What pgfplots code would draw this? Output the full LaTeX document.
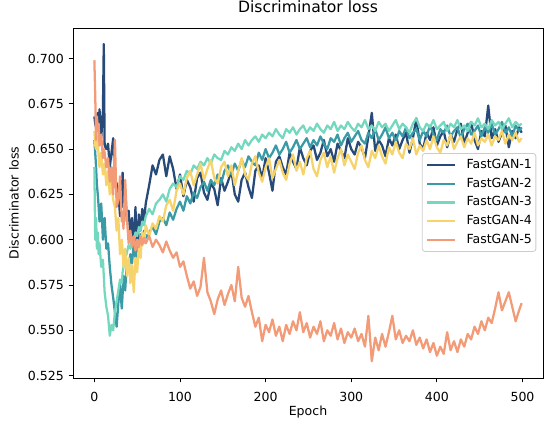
\documentclass[border=0pt]{standalone}
\usepackage{fontspec}
\setmainfont{DejaVu Sans}
\usepackage{pgfplots}
\usepackage{pgfplotstable}
\pgfplotsset{compat=1.18}
\definecolor{c1}{HTML}{274A78}
\definecolor{c2}{HTML}{3A9BA6}
\definecolor{c3}{HTML}{74D8BF}
\definecolor{c4}{HTML}{F6D36B}
\definecolor{c5}{HTML}{F39A77}
\pgfplotstableread{
ep s1 s2 s3 s4 s5
0 0.668 0.655 0.640 0.660 0.699
1 0.664 0.648 0.600 0.652 0.680
2 0.662 0.640 0.612 0.650 0.655
3 0.667 0.630 0.595 0.657 0.668
4 0.670 0.625 0.604 0.655 0.660
5 0.661 0.618 0.592 0.646 0.664
6 0.672 0.610 0.598 0.640 0.652
8 0.656 0.620 0.585 0.648 0.658
10 0.671 0.600 0.589 0.636 0.645
11 0.708 0.606 0.580 0.641 0.650
12 0.652 0.612 0.571 0.642 0.648
14 0.650 0.595 0.563 0.630 0.640
16 0.653 0.598 0.558 0.638 0.645
18 0.640 0.585 0.547 0.625 0.632
20 0.648 0.575 0.553 0.632 0.640
22 0.656 0.568 0.550 0.622 0.625
24 0.633 0.560 0.560 0.618 0.655
26 0.631 0.552 0.566 0.605 0.618
28 0.626 0.565 0.572 0.612 0.622
30 0.613 0.575 0.578 0.592 0.635
32 0.622 0.562 0.576 0.600 0.610
33 0.637 0.570 0.582 0.594 0.615
34 0.618 0.580 0.585 0.585 0.606
36 0.628 0.572 0.589 0.595 0.633
38 0.610 0.588 0.593 0.580 0.612
40 0.616 0.583 0.597 0.590 0.598
42 0.603 0.592 0.595 0.576 0.605
44 0.612 0.587 0.600 0.586 0.596
46 0.594 0.598 0.598 0.571 0.602
48 0.618 0.590 0.604 0.590 0.594
50 0.590 0.600 0.602 0.582 0.600
52 0.614 0.596 0.607 0.598 0.596
54 0.605 0.603 0.605 0.590 0.602
56 0.617 0.598 0.610 0.604 0.597
58 0.610 0.605 0.608 0.598 0.601
60 0.620 0.601 0.613 0.608 0.598
64 0.630 0.604 0.617 0.602 0.602
68 0.641 0.607 0.614 0.609 0.596
72 0.636 0.603 0.620 0.606 0.600
76 0.644 0.610 0.622 0.613 0.597
80 0.647 0.612 0.625 0.610 0.593
84 0.635 0.608 0.621 0.619 0.599
88 0.646 0.615 0.628 0.622 0.594
92 0.639 0.611 0.631 0.616 0.590
96 0.628 0.617 0.629 0.627 0.593
100 0.636 0.621 0.635 0.631 0.585
104 0.624 0.616 0.633 0.625 0.588
108 0.633 0.624 0.638 0.634 0.580
112 0.629 0.620 0.636 0.638 0.573
116 0.621 0.626 0.641 0.630 0.577
120 0.634 0.623 0.639 0.636 0.569
124 0.637 0.629 0.643 0.642 0.574
128 0.626 0.632 0.641 0.633 0.590
132 0.622 0.627 0.645 0.639 0.571
136 0.631 0.633 0.642 0.644 0.566
140 0.628 0.630 0.647 0.634 0.559
144 0.619 0.636 0.645 0.631 0.567
148 0.634 0.631 0.644 0.640 0.572
152 0.627 0.638 0.649 0.643 0.564
156 0.632 0.641 0.647 0.635 0.570
160 0.638 0.636 0.651 0.641 0.575
164 0.625 0.642 0.649 0.630 0.566
168 0.621 0.638 0.653 0.638 0.585
172 0.633 0.644 0.650 0.645 0.568
176 0.637 0.640 0.655 0.636 0.563
180 0.629 0.646 0.652 0.633 0.569
184 0.623 0.643 0.655 0.642 0.560
188 0.638 0.641 0.657 0.646 0.552
192 0.641 0.648 0.654 0.637 0.557
196 0.634 0.644 0.658 0.632 0.544
200 0.645 0.650 0.656 0.640 0.553
204 0.637 0.645 0.659 0.645 0.549
208 0.627 0.648 0.657 0.634 0.556
212 0.643 0.652 0.661 0.639 0.547
216 0.646 0.647 0.658 0.644 0.552
220 0.640 0.650 0.656 0.637 0.544
224 0.636 0.654 0.661 0.633 0.553
228 0.648 0.648 0.659 0.642 0.548
232 0.643 0.651 0.662 0.647 0.555
236 0.639 0.655 0.658 0.638 0.550
240 0.651 0.650 0.661 0.643 0.560
244 0.645 0.653 0.663 0.636 0.549
248 0.641 0.656 0.659 0.645 0.554
252 0.649 0.651 0.662 0.649 0.546
256 0.652 0.655 0.660 0.639 0.552
260 0.644 0.652 0.664 0.635 0.548
264 0.648 0.657 0.661 0.644 0.555
268 0.655 0.653 0.659 0.648 0.544
272 0.646 0.650 0.663 0.640 0.550
276 0.650 0.656 0.661 0.646 0.547
280 0.643 0.654 0.665 0.637 0.554
284 0.653 0.658 0.660 0.645 0.545
288 0.649 0.652 0.663 0.650 0.551
292 0.645 0.656 0.661 0.641 0.543
296 0.656 0.659 0.665 0.647 0.549
300 0.650 0.654 0.662 0.643 0.546
304 0.647 0.657 0.660 0.639 0.551
308 0.654 0.660 0.664 0.648 0.544
312 0.651 0.655 0.662 0.652 0.548
316 0.645 0.653 0.666 0.644 0.541
320 0.657 0.659 0.661 0.640 0.558
324 0.670 0.656 0.663 0.649 0.533
328 0.649 0.661 0.660 0.645 0.546
332 0.655 0.655 0.665 0.652 0.539
336 0.652 0.658 0.662 0.646 0.548
340 0.646 0.662 0.664 0.642 0.541
344 0.656 0.656 0.660 0.651 0.549
348 0.652 0.659 0.663 0.647 0.558
352 0.658 0.654 0.666 0.654 0.545
356 0.650 0.660 0.661 0.648 0.550
360 0.655 0.657 0.664 0.645 0.543
364 0.659 0.662 0.662 0.653 0.547
368 0.648 0.656 0.659 0.650 0.544
372 0.656 0.659 0.664 0.656 0.550
376 0.667 0.661 0.667 0.647 0.542
380 0.653 0.655 0.662 0.652 0.546
384 0.650 0.660 0.660 0.649 0.540
388 0.659 0.657 0.664 0.655 0.545
392 0.655 0.663 0.662 0.650 0.538
396 0.662 0.658 0.666 0.657 0.543
400 0.652 0.655 0.661 0.651 0.536
404 0.657 0.661 0.663 0.648 0.541
408 0.660 0.659 0.665 0.655 0.537
412 0.651 0.663 0.660 0.652 0.549
416 0.658 0.657 0.664 0.658 0.539
420 0.654 0.660 0.662 0.650 0.544
424 0.661 0.662 0.666 0.654 0.538
428 0.664 0.656 0.661 0.657 0.545
432 0.653 0.661 0.663 0.651 0.541
436 0.659 0.664 0.660 0.656 0.548
440 0.665 0.658 0.665 0.653 0.545
444 0.655 0.660 0.663 0.659 0.552
448 0.650 0.663 0.667 0.652 0.548
452 0.660 0.657 0.662 0.656 0.555
456 0.657 0.662 0.664 0.654 0.550
460 0.674 0.659 0.661 0.658 0.557
464 0.656 0.664 0.666 0.652 0.554
468 0.661 0.658 0.663 0.657 0.562
472 0.654 0.661 0.665 0.655 0.571
476 0.659 0.665 0.661 0.660 0.561
480 0.663 0.659 0.664 0.653 0.566
484 0.651 0.662 0.667 0.658 0.571
488 0.660 0.657 0.662 0.655 0.563
492 0.656 0.663 0.665 0.659 0.555
496 0.662 0.660 0.663 0.654 0.561
499 0.659 0.662 0.664 0.656 0.565
}\lossdata
\newcommand{\tickfont}{\fontsize{9.4}{11}\selectfont}
\begin{document}
\begin{tikzpicture}
\path[use as bounding box] (0,0) rectangle (412.5pt,321pt);
\begin{axis}[
  at={(54.75pt,37.5pt)}, anchor=south west,
  scale only axis, width=352.5pt, height=262.5pt,
  xmin=-24.95, xmax=523.95, ymin=0.5237, ymax=0.7168,
  xtick={0,100,200,300,400,500},
  ytick={0.525,0.550,0.575,0.600,0.625,0.650,0.675,0.700},
  yticklabels={},
  xtick pos=bottom, ytick pos=left,
  /pgf/number format/assume math mode=true,
  tick align=outside, major tick length=3.2pt,
  tick style={black, line width=0.6pt},
  axis line style={black, line width=0.6pt},
  every tick label/.append style={font=\tickfont},
  xticklabel style={anchor=base, inner sep=0pt, yshift=-14.5pt},
  title={Discriminator loss},
  title style={font=\fontsize{11.7}{13}\selectfont, at={(axis description cs:0.5,1.0209)}, anchor=base, yshift=0pt},
  xlabel={Epoch}, ylabel={Discriminator loss},
  every axis x label/.style={at={(axis description cs:0.5,-0.1077)}, anchor=base, font=\tickfont},
  every axis y label/.style={at={(axis description cs:-0.1255,0.5)}, anchor=center, rotate=90, font=\tickfont},
  legend style={at={(0.9857,0.5015)}, anchor=east, draw=black!20, line width=0.6pt,
    rounded corners=2pt, fill=white, fill opacity=0.8, text opacity=1, draw opacity=1,
    font=\tickfont, inner xsep=3pt, inner ysep=4pt, row sep=5.1pt,
    nodes={inner sep=0pt, text height=7pt, text depth=2pt},
    /tikz/every odd column/.append style={column sep=7.5pt}},
  legend cell align=left,
  legend image code/.code={\draw[#1] (0pt,0pt) -- (21pt,0pt);},
]
\addplot[c1, line width=1.7pt, line join=round] table[x=ep, y=s1] {\lossdata};
\addlegendentry{FastGAN-1}
\addplot[c2, line width=1.7pt, line join=round] table[x=ep, y=s2] {\lossdata};
\addlegendentry{FastGAN-2}
\addplot[c3, line width=1.7pt, line join=round] table[x=ep, y=s3] {\lossdata};
\addlegendentry{FastGAN-3}
\addplot[c4, line width=1.7pt, line join=round] table[x=ep, y=s4] {\lossdata};
\addlegendentry{FastGAN-4}
\addplot[c5, line width=1.7pt, line join=round] table[x=ep, y=s5] {\lossdata};
\addlegendentry{FastGAN-5}
\end{axis}
\foreach \yv/\lab in {39.27/0.525, 73.25/0.550, 107.24/0.575, 141.22/0.600, 175.21/0.625, 209.19/0.650, 243.18/0.675, 277.16/0.700}
  \node[anchor=east, inner sep=0pt, font=\tickfont] at (48pt,\yv pt) {\lab};
\end{tikzpicture}
\end{document}
